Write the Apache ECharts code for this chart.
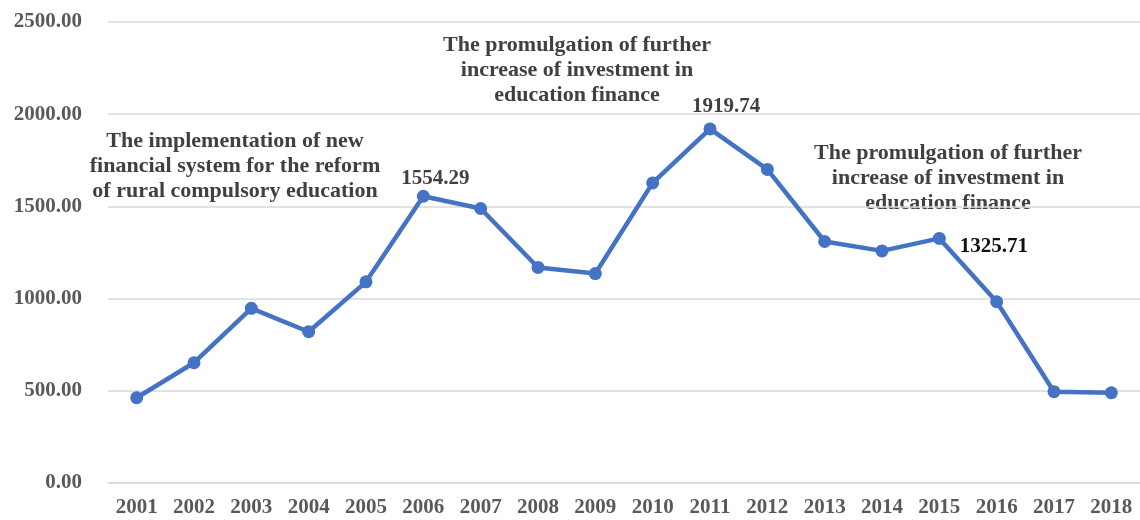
<!DOCTYPE html>
<html>
<head>
<meta charset="utf-8">
<script src="https://cdn.jsdelivr.net/npm/echarts@6/dist/echarts.min.js"></script>
<style>html,body{margin:0;padding:0;background:#fff}#c{width:1140px;height:520px}</style>
</head>
<body>
<div id="c"></div>
<script>
var years = ['2001','2002','2003','2004','2005','2006','2007','2008','2009','2010','2011','2012','2013','2014','2015','2016','2017','2018'];
var values = [461, 651, 946, 819, 1090, 1554.29, 1488, 1168, 1135, 1627, 1919.74, 1700, 1309, 1258, 1325.71, 982, 494, 488];
var yTicks = [0, 500, 1000, 1500, 2000, 2500];
var labeledYears = ['2006', '2011', '2015'];
var annotationTexts = [
  'The implementation of new\nfinancial system for the reform\nof rural compulsory education',
  'The promulgation of further\nincrease of investment in\neducation finance',
  'The promulgation of further\nincrease of investment in\neducation finance'
];

var FONT = '"Liberation Serif", "Times New Roman", serif';
var labelStyles = {
  '2006': {position: 'top', offset: [12, 4], color: '#404040'},
  '2011': {position: 'top', offset: [16, 0], color: '#404040'},
  '2015': {position: 'right', offset: [9, 8], color: '#111111'}
};
var seriesData = values.map(function (v, i) {
  var y = years[i];
  if (labeledYears.indexOf(y) >= 0) {
    var s = labelStyles[y];
    return {value: v, label: {show: true, position: s.position, offset: s.offset, color: s.color,
      fontFamily: FONT, fontWeight: 'bold', fontSize: 21,
      formatter: function (p) { return p.value.toFixed(2); }}};
  }
  return v;
});

var annPos = [[235, 129], [577, 33], [948, 141]];
var graphics = annotationTexts.map(function (t, i) {
  return {type: 'text', x: annPos[i][0], y: annPos[i][1],
    style: {text: t, fill: '#404040', font: 'bold 22px ' + FONT, align: 'center', verticalAlign: 'top', lineHeight: 25}};
});

var chart = echarts.init(document.getElementById('c'), null, {renderer: 'canvas'});
chart.setOption({
  animation: false,
  grid: {left: 108, right: -6, top: 22, bottom: 37.3, containLabel: false},
  xAxis: {
    type: 'category', data: years, boundaryGap: true,
    axisLine: {show: true, lineStyle: {color: '#d9d9d9', width: 1.5}},
    axisTick: {show: false},
    axisLabel: {color: '#595959', fontFamily: FONT, fontWeight: 'bold', fontSize: 21, margin: 14}
  },
  yAxis: {
    type: 'value', min: yTicks[0], max: yTicks[yTicks.length - 1], interval: 500,
    axisLine: {show: false}, axisTick: {show: false},
    splitLine: {lineStyle: {color: '#d9d9d9', width: 1.5}},
    axisLabel: {color: '#595959', fontFamily: FONT, fontWeight: 'bold', fontSize: 21, margin: 26,
      formatter: function (v) { return v.toFixed(2); }}
  },
  series: [{
    type: 'line', data: seriesData,
    lineStyle: {color: '#4472C4', width: 4.5},
    itemStyle: {color: '#4472C4'},
    symbol: 'circle', symbolSize: 13,
    label: {show: false}
  }],
  graphic: graphics
});
</script>
</body>
</html>
